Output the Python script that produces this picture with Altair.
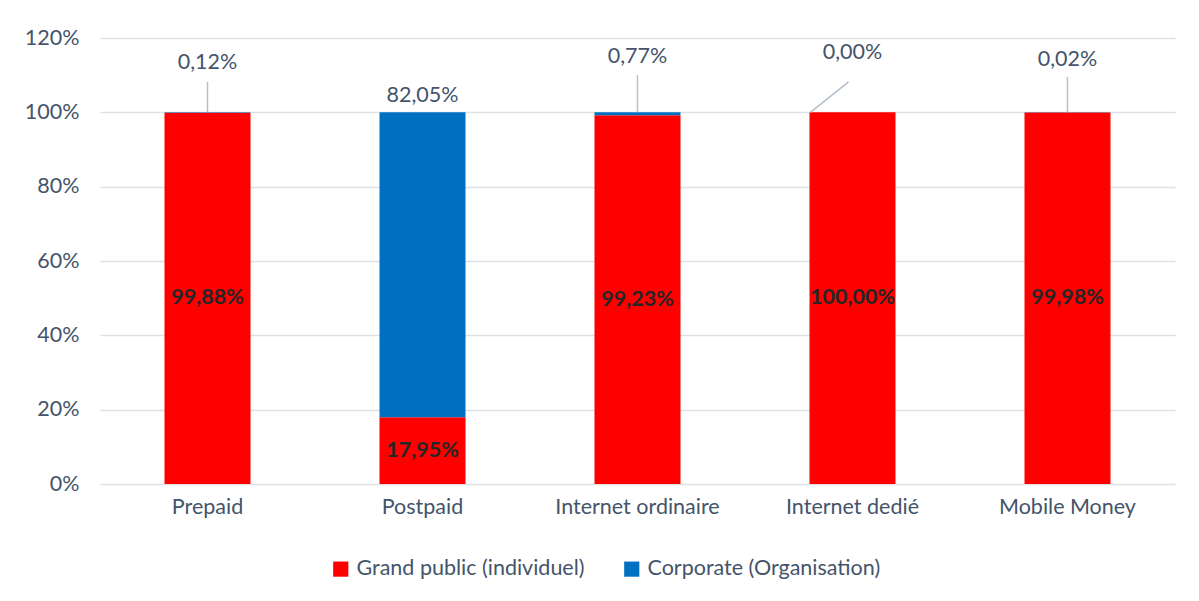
import altair as alt
import pandas as pd

categories = ["Prepaid", "Postpaid", "Internet ordinaire", "Internet dedié", "Mobile Money"]
series = ["Grand public (individuel)", "Corporate (Organisation)"]
grand_public = [99.88, 17.95, 99.23, 100.00, 99.98]
corporate = [0.12, 82.05, 0.77, 0.00, 0.02]
y_ticks = [0, 20, 40, 60, 80, 100, 120]

# layout of the corporate labels (placed above the bars, in axis units)
label_y = [113.3, 104.4, 114.9, 116.0, 114.1]
leader_top = [108.2, None, 110.0, 108.2, 109.5]

def fr(v):
    return f"{v:.2f}".replace(".", ",") + "%"

rows = []
for i, c in enumerate(categories):
    rows.append({"cat": c, "series": series[0], "v": grand_public[i], "o": 0})
    rows.append({"cat": c, "series": series[1], "v": corporate[i], "o": 1})
df = pd.DataFrame(rows)

inner = pd.DataFrame({
    "cat": categories,
    "ymid": [v / 2 for v in grand_public],
    "txt": [fr(v) for v in grand_public],
})
outer = pd.DataFrame({
    "cat": categories,
    "ly": label_y,
    "txt": [fr(v) for v in corporate],
})

FONT = "Lato"
FS = 21.5
TXT = "#44546A"

xenc = alt.X("cat:N", sort=categories, title=None,
             scale=alt.Scale(paddingInner=0.6, paddingOuter=0.3),
             axis=alt.Axis(labelAngle=0, ticks=False, domain=False, labelPadding=12,
                           labelFontSize=FS, labelColor=TXT, labelFont=FONT, grid=False))

bars = alt.Chart(df).mark_bar().encode(
    x=xenc,
    y=alt.Y("v:Q", stack="zero", title=None,
            scale=alt.Scale(domain=[0, 120], nice=False),
            axis=alt.Axis(values=y_ticks, labelExpr="datum.value + '%'", domain=False, ticks=False,
                          labelPadding=21, labelFontSize=FS, labelColor=TXT, labelFont=FONT,
                          gridColor="#DDE1E6", gridWidth=1.3)),
    color=alt.Color("series:N", sort=series,
                    scale=alt.Scale(domain=series, range=["#FF0000", "#0070C0"]),
                    legend=alt.Legend(title=None, orient="none", direction="horizontal",
                                      legendX=230, legendY=520,
                                      symbolType="square", symbolSize=230, symbolStrokeWidth=0,
                                      labelFontSize=FS, labelColor=TXT, labelFont=FONT,
                                      labelLimit=400, columnPadding=36, symbolOffset=0,
                                      labelOffset=5)),
    order=alt.Order("o:Q"),
)

inner_txt = alt.Chart(inner).mark_text(font=FONT, fontSize=FS, fontWeight="bold",
                                       color="#262626", baseline="middle").encode(
    x=alt.X("cat:N", sort=categories),
    y=alt.Y("ymid:Q"),
    text="txt:N",
)

outer_txt = alt.Chart(outer).mark_text(font=FONT, fontSize=FS, color=TXT,
                                       baseline="middle").encode(
    x=alt.X("cat:N", sort=categories),
    y=alt.Y("ly:Q"),
    text="txt:N",
)

layers = [bars, inner_txt, outer_txt]

for i, c in enumerate(categories):
    if leader_top[i] is None:
        continue
    d = pd.DataFrame({"cat": [c], "y0": [grand_public[i] + corporate[i]], "y1": [leader_top[i]]})
    if c == "Internet dedié":
        rule = alt.Chart(d).mark_rule(color="#B4BFCC", strokeWidth=1.5, xOffset=-42, x2Offset=-4).encode(
            x=alt.X("cat:N", sort=categories), x2="cat:N", y="y0:Q", y2="y1:Q")
    else:
        rule = alt.Chart(d).mark_rule(color="#B4BFCC", strokeWidth=1.5).encode(
            x=alt.X("cat:N", sort=categories), y="y0:Q", y2="y1:Q")
    layers.append(rule)

chart = alt.layer(*layers).properties(
    width=1075, height=446,
    autosize=alt.AutoSizeParams(type="none"),
    padding={"left": 92, "top": 30, "right": 10, "bottom": 100},
).configure(background="white").configure_view(strokeWidth=0, stroke="transparent")

chart.save("out.html", embed_options={"renderer": "svg", "actions": False})
